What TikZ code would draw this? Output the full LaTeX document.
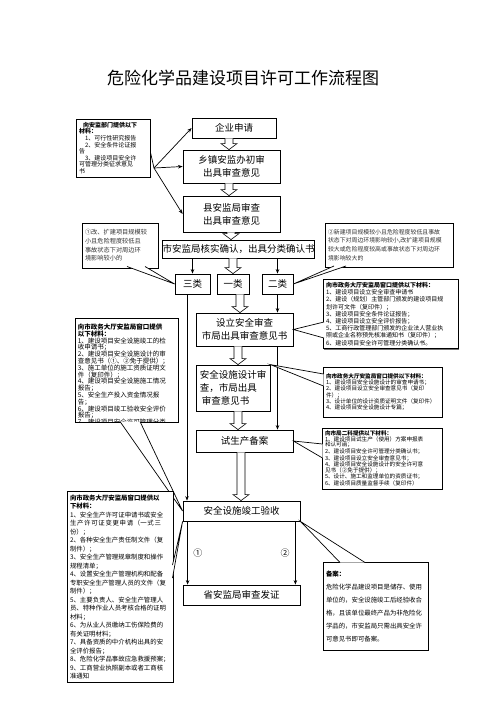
\documentclass[tikz,border=0pt]{standalone}
\usepackage{fontspec}
\setmainfont{Noto Sans CJK SC}
\XeTeXlinebreaklocale "zh"
\XeTeXlinebreakskip=0pt plus 1pt
\usetikzlibrary{shadows,calc,arrows.meta}
\newcommand\harr[3]{%
  \draw[harrow] let \p1=(#1.south), \p2=(#2.north) in
  ({#3pt-4pt},\y1) -- ({#3pt-4pt},{\y2+6pt}) -- ({#3pt-8pt},{\y2+6pt}) -- ({#3pt},\y2)
  -- ({#3pt+8pt},{\y2+6pt}) -- ({#3pt+4pt},{\y2+6pt}) -- ({#3pt+4pt},\y1);}
\newcommand\calltail[3]{%
  \fill[white] #1 -- #2 -- #3 -- cycle;
  \draw[tailline] #1 -- #2 -- #3;}
\newcommand\hd[1]{{\bfseries #1}}
\begin{document}
\begin{tikzpicture}[x=1pt,y=-1pt,
  box/.style={draw,line width=0.8pt,fill=white,align=center,inner sep=0pt,font=\fontsize{9.5}{13}\selectfont},
  cbox/.style={draw,line width=0.8pt,fill=white,inner sep=3pt,align=left,
    drop shadow={shadow xshift=1.2pt,shadow yshift=-1.2pt,fill=black!55,opacity=1}},
  arr/.style={line width=0.7pt,-{Stealth[length=4.5pt,width=3.5pt]}},
  tailline/.style={line width=0.7pt},
  harrow/.style={draw,line width=0.6pt,fill=white},
]
\useasboundingbox[fill=white] (0,0) rectangle (496,702);

\node[font=\fontsize{17}{20}\selectfont] (title) at (243,78) {危险化学品建设项目许可工作流程图};

% main boxes
\node[box,minimum width=84pt,minimum height=20pt] (qy) at (234,128) {企业申请};
\node[box,minimum width=97pt,minimum height=33pt] (xz) at (231.5,166.5) {乡镇安监办初审\\出具审查意见};
\node[box,minimum width=97pt,minimum height=36pt] (xian) at (231.5,214) {县安监局审查\\出具审查意见};
\node[box,minimum width=145pt,minimum height=18pt] (shi) at (238.5,249) {市安监局核实确认，出具分类确认书};
\node[box,minimum width=35pt,minimum height=20pt] (c3) at (192.5,284) {三类};
\node[box,minimum width=32pt,minimum height=20pt] (c1) at (233,284) {一类};
\node[box,minimum width=31pt,minimum height=20pt] (c2) at (277.5,284) {二类};
\node[box,minimum width=97pt,minimum height=33pt] (sl) at (244.5,329.5) {设立安全审查\\市局出具审查意见书};
\node[box,minimum width=74pt,minimum height=46pt,align=left] (sj) at (233,388) {安全设施设计审\\查，市局出具\\\ 审查意见书};
\node[box,minimum width=97pt,minimum height=22pt] (sc) at (244.5,441) {试生产备案};
\node[box,minimum width=117pt,minimum height=20pt] (jg) at (241.5,511) {安全设施竣工验收};
\node[box,minimum width=117pt,minimum height=20pt] (fz) at (241.5,595) {省安监局审查发证};

% hollow arrows
\harr{qy}{xz}{229}
\harr{xz}{xian}{229}
\harr{xian}{shi}{231}
\harr{shi}{c1}{233}
\harr{c1}{sl}{240}
\harr{sl}{sj}{238}
\harr{sj}{sc}{238}
\harr{sc}{jg}{241}

% plain arrows
\draw[arr] (shi.south -| c3.north) -- (c3.north);
\draw[arr] (shi.south -| c2.north) -- (c2.north);
\draw[arr] ([xshift=-5.5pt]c3.south) -- ([xshift=-5.5pt]c3.south |- jg.north);
\draw[arr] (c2.south) -- (c2.south |- sl.north);
\draw[arr] (c2.south |- sl.south) -- (c2.south |- sc.north);
\draw[arr] ([xshift=5pt]jg.south west) -- ([xshift=5pt]fz.north west) node[midway,right=2pt,font=\fontsize{9}{10}\selectfont] (n1) {①};
\draw[arr] ([xshift=-5pt]jg.south east) -- ([xshift=-5pt]fz.north east) node[midway,left=2pt,font=\fontsize{9}{10}\selectfont] (n2) {②};

% callout A
\node[cbox,text width=68pt,minimum height=58pt,font=\fontsize{6}{6.6}\selectfont] (A) at (113,148)
 {\hspace*{4pt}\hd{向安监部门提供以下}\\\hd{材料：}\\\hspace*{6pt}1、可行性研究报告\\\hspace*{6pt}2、安全条件论证报\\告\\\hspace*{6pt}3、建设项目安全许\\可管理分类征求意见\\书};
\coordinate (As) at (154,168);
\draw[tailline] ([yshift=-4pt]A.east) -- (As);
\draw[arr] (As) -- (qy.west);
\draw[arr] (As) -- (xz.west);
\draw[arr] (As) -- (xian.west);

% callout 1
\node[cbox,text width=70pt,minimum height=45pt,text=black!80,font=\fontsize{6.2}{8.7}\selectfont] (C3) at (120,245.5)
 {①改、扩建项目规模较\\小且危险程度较低且\\事故状态下对周边环\\境影响较小的};
\calltail{(127,266.5)}{(c3.west)}{(145,266.5)}

% callout 2
\node[cbox,text width=122pt,minimum height=44pt,text=black!80,font=\fontsize{5.9}{8.7}\selectfont] (C2) at (389,245)
 {②新建项目规模较小且危险程度较低且事故\\状态下对周边环境影响较小,改扩建项目规模\\较大或危险程度较高或事故状态下对周边环\\境影响较大的};
\calltail{(334,266)}{(c2.east)}{(346,266)}

% callout R1
\node[cbox,text width=129pt,minimum height=64pt,font=\fontsize{6}{7.2}\selectfont] (R1) at (390.5,314)
 {\hd{向市政务大厅安监局窗口提供以下材料：}\\1、建设项目设立安全审查申请书\\2、建设（规划）主管部门颁发的建设项目规\\划许可文件（复印件）；\\3、建设项目安全条件论证报告；\\4、建设项目设立安全评价报告；\\5、工商行政管理部门颁发的企业法人营业执\\照或企业名称预先核准通知书（复印件）；\\6、建设项目安全许可管理分类确认书。};
\calltail{(324,322)}{(sl.east)}{(324,338)}

% callout L1 (clipped)
\node[cbox,minimum width=103pt,minimum height=104pt] (L1) at (126.5,370) {};
\begin{scope}
\clip (L1.south west) rectangle (L1.north east);
\node[anchor=north west,text width=100pt,inner sep=0pt,align=left,font=\fontsize{6.5}{6.8}\selectfont] (L1t) at ([xshift=3pt,yshift=-6pt]L1.north west)
 {\hd{向市政务大厅安监局窗口提供}\\\hd{以下材料：}\\1、建设项目安全设施竣工的检\\收申请书；\\2、建设项目安全设施设计的审\\查意见书（①、②免于提供）；\\3、施工单位的施工资质证明文\\件（复印件）；\\4、建设项目安全设施施工情况\\报告；\\5、安全生产投入资金情况报\\告；\\6、建设项目竣工验收安全评价\\报告；\\7、建设项目安全许可管理分类\\确认书。};
\end{scope}
\calltail{(120,421.5)}{(jg.west)}{(140,421.5)}

% callout R2
\node[cbox,text width=113pt,minimum height=50pt,font=\fontsize{5.6}{6.3}\selectfont] (R2) at (382.5,392)
 {\hd{向市政务大厅安监局窗口提供以下材料：}\\1、建设项目安全设施设计的审查申请书；\\2、建设项目设立安全审查意见书（复印\\件）；\\3、设计单位的设计资质证明文件（复印件）\\4、建设项目安全设施设计专篇；};
\calltail{(323.5,374)}{(sj.north east)}{(323.5,386)}

% callout R3
\node[cbox,text width=114pt,minimum height=57pt,font=\fontsize{5.6}{5.4}\selectfont] (R3) at (382,458.5)
 {\hd{向市局二科提供以下材料：}\\1、建设项目试生产（使用）方案申报表\\和认可函；\\2、建设项目安全许可管理分类确认书；\\3、建设项目设立安全审查意见书；\\4、建设项目安全设施设计的安全许可意\\见书（②免于提供）；\\5、设计、施工和监理单位的资质证书；\\6、建设项目质量监督手续（复印件）};
\calltail{(322.5,444)}{(sc.east)}{(322.5,458)}

% callout L2
\node[cbox,text width=100pt,minimum height=180pt,font=\fontsize{6.4}{8.5}\selectfont] (L2) at (120,587)
 {\hd{向市政务大厅安监局窗口提供以}\\\hd{下材料：}\\1、安全生产许可证申请书或安全\\生产许可证变更申请（一式三份）；\\2、各种安全生产责任制文件（复\\制件）；\\3、安全生产管理规章制度和操作\\规程清单；\\4、设置安全生产管理机构和配备\\专职安全生产管理人员的文件（复\\制件）；\\5、主要负责人、安全生产管理人\\员、特种作业人员考核合格的证明\\材料；\\6、为从业人员缴纳工伤保险费的\\有关证明材料；\\7、具备资质的中介机构出具的安\\全评价报告；\\8、危险化学品事故应急救援预案；\\9、工商营业执照副本或者工商核\\准通知};
\calltail{(172.5,565)}{(jg.south west)}{(172.5,578)}

% callout B
\node[cbox,text width=99pt,minimum height=88pt,font=\fontsize{6.4}{13}\selectfont] (B) at (375.5,606)
 {\hd{备案：}\\危险化学品建设项目是储存、使用\\单位的，安全设施竣工后经验收合\\格，且该单位最终产品为非危险化\\学品的，市安监局只需出具安全许\\可意见书即可备案。};
\calltail{(340,562.5)}{(jg.south east)}{(365,562.5)}
\end{tikzpicture}
\end{document}
